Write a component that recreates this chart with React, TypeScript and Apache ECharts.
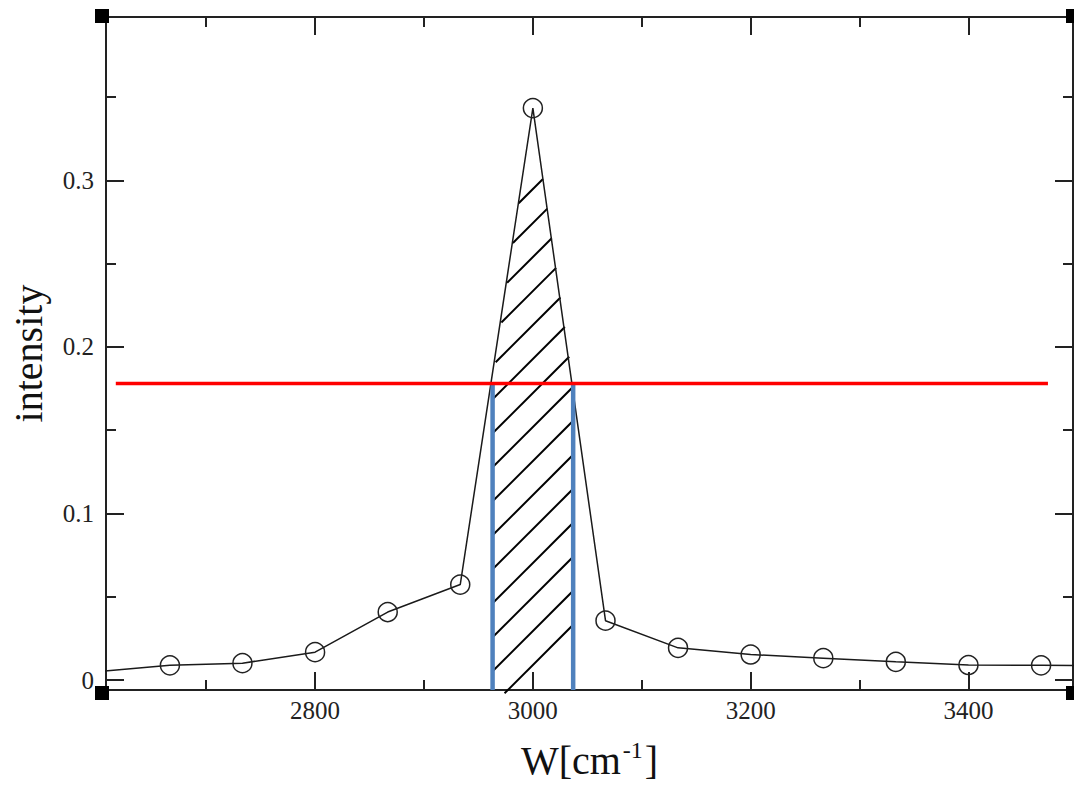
import React, { useEffect, useRef } from "react";
import * as echarts from "echarts";

// ---- data ----
const W_VALUES = [2600, 2666.7, 2733.3, 2800, 2866.7, 2933.3, 3000, 3066.7, 3133.3, 3200, 3266.7, 3333.3, 3400, 3466.7, 3533.3];
const INTENSITY = [0.005, 0.0088, 0.0101, 0.0167, 0.0408, 0.0573, 0.3433, 0.0356, 0.0193, 0.0153, 0.0131, 0.0109, 0.009, 0.0088, 0.0086];

const HALF_MAX = 0.178;
const HALF_LINE_X = [2617, 3473];
const FWHM_LEFT = 2963;
const FWHM_RIGHT = 3037;

// hatched region (data coords)
const HATCH_X = [2963, 2963, 2991.1, 3008.3, 3037, 3037];
const HATCH_Y = [-0.008, 0.178, 0.305, 0.305, 0.178, -0.008];

const X_MIN = 2608;
const X_MAX = 3496;
const Y_MIN = -0.006;
const Y_MAX = 0.398;

const X_MAJOR = [2800, 3000, 3200, 3400];
const X_MINOR = [2700, 2900, 3100, 3300];
const Y_MAJOR = [0, 0.1, 0.2, 0.3];
const Y_MINOR = [0.05, 0.15, 0.25, 0.35];

const FONT = '"Liberation Serif", "Times New Roman", "DejaVu Serif", serif';
const AXIS_COLOR = "#222";

function makeAxis(kind: "x" | "y", position: string, major: boolean, showLabel: boolean) {
  const isX = kind === "x";
  return {
    type: "value",
    position,
    min: isX ? X_MIN : Y_MIN,
    max: isX ? X_MAX : Y_MAX,
    axisLine: { show: major, onZero: false, lineStyle: { color: AXIS_COLOR, width: 2 } },
    axisTick: {
      show: true,
      inside: true,
      length: major ? 18 : 10,
      customValues: major ? (isX ? X_MAJOR : Y_MAJOR) : isX ? X_MINOR : Y_MINOR,
      lineStyle: { color: AXIS_COLOR, width: 2 },
    },
    axisLabel: {
      show: showLabel,
      customValues: isX ? X_MAJOR : Y_MAJOR,
      formatter: (v: number) => String(Math.round(v * 1000) / 1000),
      fontFamily: FONT,
      fontSize: 25,
      color: "#222",
      margin: isX ? 8 : 12,
    },
    splitLine: { show: false },
  };
}

export default function App() {
  const ref = useRef<HTMLDivElement>(null);

  useEffect(() => {
    if (!ref.current) return;
    const chart = echarts.init(ref.current, undefined, { renderer: "svg" });

    const xMain: any = makeAxis("x", "bottom", true, true);
    xMain.name = "{a|W[cm}{s|-1}{a|]}";
    xMain.nameLocation = "middle";
    xMain.nameGap = 48;
    xMain.nameTextStyle = {
      rich: {
        a: { fontFamily: FONT, fontSize: 40, color: "#111", lineHeight: 44 },
        s: { fontFamily: FONT, fontSize: 24, color: "#111", verticalAlign: "top", lineHeight: 24, padding: [0, 2, 0, 2] },
      },
    };
    const yMain: any = makeAxis("y", "left", true, true);
    yMain.name = "intensity";
    yMain.nameLocation = "middle";
    yMain.nameGap = 58;
    yMain.nameTextStyle = { fontFamily: FONT, fontSize: 40, color: "#111" };

    const option: any = {
      animation: false,
      backgroundColor: "#fff",
      grid: { left: 103, top: 17, width: 970, height: 677, containLabel: false },
      xAxis: [
        xMain,
        makeAxis("x", "top", true, false),
        makeAxis("x", "bottom", false, false),
        makeAxis("x", "top", false, false),
      ],
      yAxis: [
        yMain,
        makeAxis("y", "right", true, false),
        makeAxis("y", "left", false, false),
        makeAxis("y", "right", false, false),
      ],
      graphic: [
        { type: "rect", shape: { x: 95, y: 9, width: 14, height: 14 }, style: { fill: "#000" }, z: 100 },
        { type: "rect", shape: { x: 1066, y: 9, width: 14, height: 14 }, style: { fill: "#000" }, z: 100 },
        { type: "rect", shape: { x: 95, y: 686, width: 14, height: 14 }, style: { fill: "#000" }, z: 100 },
        { type: "rect", shape: { x: 1066, y: 686, width: 14, height: 14 }, style: { fill: "#000" }, z: 100 },
      ],
      series: [
        {
          type: "custom",
          z: 1,
          silent: true,
          data: [[3000, 0.1]],
          encode: { x: 0, y: 1 },
          renderItem: (_params: any, api: any) => {
            const pts = HATCH_X.map((x, i) => api.coord([x, HATCH_Y[i]]));
            const cs = pts.map((p: number[]) => p[0] + p[1]);
            const cMin = Math.min(...cs);
            const c0 = pts[0][0] + pts[0][1] + 12;
            const children: any[] = [];
            for (let c = c0; c > cMin; c -= 34) {
              const hits: number[][] = [];
              for (let i = 0; i < pts.length; i++) {
                const p = pts[i];
                const q = pts[(i + 1) % pts.length];
                const fp = p[0] + p[1] - c;
                const fq = q[0] + q[1] - c;
                if (fp === fq) continue;
                if (fp * fq <= 0) {
                  const t = fp / (fp - fq);
                  hits.push([p[0] + t * (q[0] - p[0]), p[1] + t * (q[1] - p[1])]);
                }
              }
              if (hits.length >= 2) {
                hits.sort((a, b) => a[0] - b[0]);
                const a = hits[0];
                const b = hits[hits.length - 1];
                if (Math.hypot(b[0] - a[0], b[1] - a[1]) < 2) continue;
                children.push({
                  type: "line",
                  shape: { x1: a[0], y1: a[1], x2: b[0], y2: b[1] },
                  style: { stroke: "#000", lineWidth: 2 },
                });
              }
            }
            return { type: "group", children };
          },
        },
        {
          type: "line",
          z: 2,
          data: W_VALUES.map((w, i) => [w, INTENSITY[i]]),
          symbol: "circle",
          symbolSize: 19,
          showSymbol: true,
          clip: true,
          lineStyle: { color: "#1a1a1a", width: 1.5 },
          itemStyle: { color: "rgba(0,0,0,0)", borderColor: "#222", borderWidth: 1.5 },
        },
        {
          type: "line",
          z: 3,
          data: [
            [FWHM_LEFT, Y_MIN],
            [FWHM_LEFT, HALF_MAX],
          ],
          symbol: "none",
          lineStyle: { color: "#4f81bd", width: 4.5 },
        },
        {
          type: "line",
          z: 3,
          data: [
            [FWHM_RIGHT, Y_MIN],
            [FWHM_RIGHT, HALF_MAX],
          ],
          symbol: "none",
          lineStyle: { color: "#4f81bd", width: 4.5 },
        },
        {
          type: "line",
          z: 4,
          data: HALF_LINE_X.map((x) => [x, HALF_MAX]),
          symbol: "none",
          lineStyle: { color: "#ff0000", width: 3.5 },
        },
      ],
    };

    chart.setOption(option);
    return () => chart.dispose();
  }, []);

  return (
    <div
      ref={ref}
      style={{ position: "absolute", left: 0, top: 0, width: 1074, height: 785, background: "#fff" }}
    />
  );
}
